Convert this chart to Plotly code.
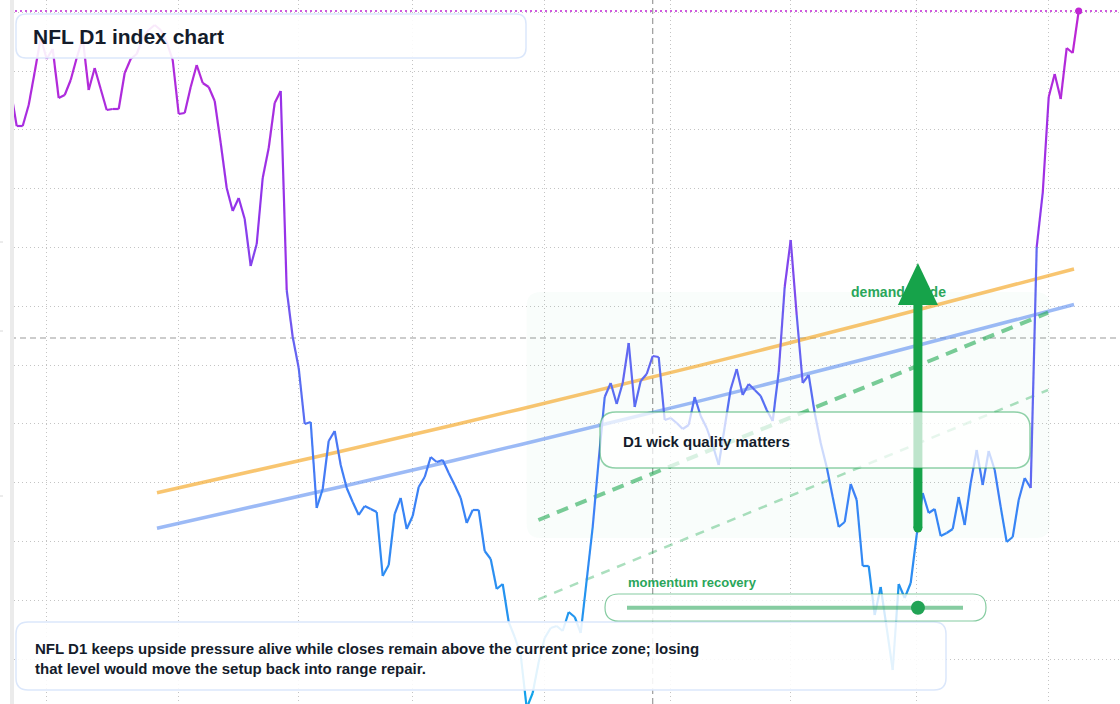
import plotly.graph_objects as go

# ---------------- data ----------------
values = [
    1614, 1578, 1578, 1599, 1632, 1666, 1645, 1655, 1606, 1609,
    1624, 1646, 1666, 1614, 1636, 1615, 1594, 1595, 1595, 1631,
    1645, 1650, 1666, 1674, 1679, 1674, 1662, 1644, 1590, 1591,
    1617, 1639, 1621, 1617, 1603, 1561, 1516, 1493, 1506, 1485,
    1438, 1460, 1526, 1556, 1601, 1613, 1414, 1367, 1336, 1280,
    1282, 1196, 1215, 1263, 1273, 1239, 1216, 1202, 1189, 1198,
    1195, 1192, 1128, 1139, 1190, 1206, 1175, 1188, 1217, 1227,
    1247, 1242, 1244, 1231, 1219, 1206, 1181, 1194, 1194, 1153,
    1145, 1115, 1120, 1082, 1067, 1049, 996, 1011, 1042, 1066,
    1076, 1078, 1073, 1092, 1087, 1071, 1124, 1177, 1244, 1307,
    1321, 1300, 1321, 1361, 1297, 1323, 1330, 1348, 1347, 1284,
    1286, 1281, 1275, 1279, 1307, 1288, 1276, 1259, 1239, 1277,
    1315, 1335, 1309, 1320, 1314, 1308, 1294, 1283, 1332, 1417,
    1464, 1389, 1321, 1329, 1291, 1261, 1237, 1207, 1177, 1182,
    1220, 1204, 1138, 1138, 1089, 1117, 1076, 1034, 1120, 1106,
    1121, 1169, 1211, 1191, 1195, 1168, 1171, 1175, 1207, 1179,
    1221, 1254, 1219, 1253, 1234, 1197, 1162, 1167, 1204, 1226,
    1216, 1457, 1511, 1607, 1630, 1605, 1656, 1651, 1693,
]
grid_x = [6, 28, 48, 67, 89, 110, 130, 151, 173]
grid_y = [1045, 1104, 1163, 1222, 1281, 1339, 1398, 1457, 1516, 1575, 1633, 1692]

trend_x = [24.38, 54.88, 84.88, 114.88, 144.88, 177.22]
trend_upper = [1211.3, 1252.5, 1294.8, 1338.6, 1384.2, 1435.0]
trend_lower = [1175.8, 1217.0, 1259.3, 1303.1, 1348.7, 1399.5]

guide_x = [87.95, 172.9]
guide_main = [1184.0, 1391.3]
guide_soft = [1104.7, 1314.0]

zone_x = [86.0, 173.2]
zone_y = [1166, 1412]

cross_x = 107
cross_y = 1366

arrow_x = 151.2
arrow_y = [1176, 1399, 1441]   # shaft bottom, head base, tip

guide_label_pos = [147.97, 1410.7]
momentum_value = 0.866

title_text = "NFL D1 index chart"
note_text = ("NFL D1 keeps upside pressure alive while closes remain above the current price zone; losing"
             "<br>that level would move the setup back into range repair.")
box_text = "D1 wick quality matters"
guide_text = "demand guide"
slider_text = "momentum recovery"

# ---------------- geometry helpers ----------------
W, H = 1120, 704
ML = 10
PW = W - ML
X0 = -0.7 / 6
X1 = X0 + PW / 6.0
Y0, Y1 = 1000, 1704


def pxx(px):
    return (px - ML) / PW


def pxy(py):
    return (H - py) / H


def rrect_path(x0, y0, x1, y1, rx, ry):
    return (f"M {x0+rx},{y0} L {x1-rx},{y0} Q {x1},{y0} {x1},{y0+ry} "
            f"L {x1},{y1-ry} Q {x1},{y1} {x1-rx},{y1} L {x0+rx},{y1} "
            f"Q {x0},{y1} {x0},{y1-ry} L {x0},{y0+ry} Q {x0},{y0} {x0+rx},{y0} Z")


def rrect_px(x0, y0, x1, y1, r):
    return rrect_path(pxx(x0), pxy(y1), pxx(x1), pxy(y0), r / PW, r / H)


def hex_to_rgb(h):
    h = h.lstrip('#')
    return tuple(int(h[i:i + 2], 16) for i in (0, 2, 4))


scale = [(0.0, '#0ea5e9'), (0.3, '#3b82f6'), (0.5, '#6366f1'),
         (0.72, '#9333ea'), (1.0, '#c026d3')]


def color_at(t):
    t = max(0.0, min(1.0, t))
    for (p0, c0), (p1, c1) in zip(scale[:-1], scale[1:]):
        if t <= p1:
            f = (t - p0) / (p1 - p0) if p1 > p0 else 0
            a, b = hex_to_rgb(c0), hex_to_rgb(c1)
            return 'rgb(%d,%d,%d)' % tuple(round(a[k] + (b[k] - a[k]) * f) for k in range(3))
    return scale[-1][1]


FONT = "Liberation Sans, Arial, sans-serif"
GREEN = '#16a34a'

fig = go.Figure()

# trend curves
fig.add_trace(go.Scatter(x=trend_x, y=trend_upper, mode='lines', line=dict(color='rgba(245,166,35,0.65)', width=3.5, shape='spline'), hoverinfo='skip'))
fig.add_trace(go.Scatter(x=trend_x, y=trend_lower, mode='lines', line=dict(color='rgba(90,140,240,0.6)', width=3.5, shape='spline'), hoverinfo='skip'))

# green guides
fig.add_trace(go.Scatter(x=guide_x, y=guide_main, mode='lines', line=dict(color='rgba(34,170,84,0.6)', width=4, dash='12px,8px'), hoverinfo='skip'))
fig.add_trace(go.Scatter(x=guide_x, y=guide_soft, mode='lines', line=dict(color='rgba(34,170,84,0.38)', width=2.5, dash='9px,8px'), hoverinfo='skip'))

# main gradient line (segment by segment)
vmin, vmax = min(values), max(values)
for i in range(len(values) - 1):
    t = ((values[i] + values[i + 1]) / 2 - vmin) / (vmax - vmin)
    fig.add_trace(go.Scatter(x=[i, i + 1], y=[values[i], values[i + 1]], mode='lines',
                             line=dict(color=color_at(t), width=2.2), hoverinfo='skip'))

last_i = len(values) - 1
fig.add_trace(go.Scatter(x=[X0, X1], y=[values[-1], values[-1]], mode='lines',
                         line=dict(color='#c026d3', width=1.3, dash='2px,3px'), hoverinfo='skip'))
fig.add_trace(go.Scatter(x=[last_i], y=[values[-1]], mode='markers',
                         marker=dict(color='#c026d3', size=7), hoverinfo='skip'))

fig.add_trace(go.Scatter(x=[guide_label_pos[0]], y=[guide_label_pos[1]], mode='text', text=[guide_text],
                         textposition='middle center',
                         textfont=dict(family=FONT, size=14, color='#2aa65a', weight='bold'), hoverinfo='skip'))

shapes = []
shapes.append(dict(type='path', xref='x', yref='y', layer='between',
                   path=rrect_path(zone_x[0], zone_y[0], zone_x[1], zone_y[1], 14 / 6, 14),
                   fillcolor='rgba(34,197,94,0.028)', line=dict(width=0)))
shapes.append(dict(type='line', xref='x', yref='paper', x0=cross_x, x1=cross_x, y0=0, y1=1, layer='between',
                   line=dict(color='#9a9a9a', width=1.2, dash='6px,4px')))
shapes.append(dict(type='line', xref='paper', yref='y', x0=0, x1=1, y0=cross_y, y1=cross_y, layer='between',
                   line=dict(color='#9a9a9a', width=1.2, dash='6px,4px')))
shapes.append(dict(type='rect', xref='paper', yref='paper', x0=0, x1=4 / PW, y0=0, y1=1, layer='above',
                   fillcolor='#ebebeb', line=dict(width=0)))
for tpy in (242, 331, 496):
    shapes.append(dict(type='line', xref='paper', yref='paper', x0=pxx(0), x1=pxx(3), y0=pxy(tpy), y1=pxy(tpy),
                       layer='above', line=dict(color='#d8d8d8', width=1)))
shapes.append(dict(type='line', xref='x', yref='y', x0=arrow_x, x1=arrow_x, y0=arrow_y[0], y1=arrow_y[1] + 2,
                   layer='above', line=dict(color=GREEN, width=9)))
shapes.append(dict(type='circle', xref='x', yref='y', x0=arrow_x - 0.75, x1=arrow_x + 0.75,
                   y0=arrow_y[0] - 4.5, y1=arrow_y[0] + 4.5, layer='above', fillcolor=GREEN, line=dict(width=0)))
hw = 20 / 6
shapes.append(dict(type='path', xref='x', yref='y', layer='above',
                   path=f"M {arrow_x-hw},{arrow_y[1]} L {arrow_x+hw},{arrow_y[1]} L {arrow_x},{arrow_y[2]} Z",
                   fillcolor=GREEN, line=dict(width=0)))
shapes.append(dict(type='path', xref='paper', yref='paper', layer='above', path=rrect_px(600, 412, 1030, 468, 16),
                   fillcolor='rgba(255,255,255,0.72)', line=dict(color='rgba(34,163,84,0.5)', width=1.5)))
shapes.append(dict(type='path', xref='paper', yref='paper', layer='above', path=rrect_px(16, 14, 526, 58, 10),
                   fillcolor='rgba(255,255,255,0.9)', line=dict(color='#dbe7fb', width=1.5)))
shapes.append(dict(type='path', xref='paper', yref='paper', layer='above', path=rrect_px(16, 622, 946, 690, 12),
                   fillcolor='rgba(255,255,255,0.88)', line=dict(color='#dbe7fb', width=1.5)))
shapes.append(dict(type='path', xref='paper', yref='paper', layer='above', path=rrect_px(605, 594, 986, 621, 13.5),
                   fillcolor='rgba(255,255,255,0.8)', line=dict(color='rgba(34,163,84,0.55)', width=1.2)))
sx0, sx1, sy = 627, 963, 607.7
shapes.append(dict(type='line', xref='paper', yref='paper', x0=pxx(sx0), x1=pxx(sx1), y0=pxy(sy), y1=pxy(sy),
                   layer='above', line=dict(color='rgba(34,163,84,0.55)', width=4)))
dot_x = sx0 + (sx1 - sx0) * momentum_value
shapes.append(dict(type='circle', xref='paper', yref='paper', x0=pxx(dot_x - 7), x1=pxx(dot_x + 7),
                   y0=pxy(sy + 7), y1=pxy(sy - 7), layer='above', fillcolor='#22a355', line=dict(width=0)))

annotations = [
    dict(xref='paper', yref='paper', x=pxx(31), y=pxy(36), xanchor='left', yanchor='middle', showarrow=False,
         text=title_text, font=dict(family=FONT, size=21, color='#141c2b', weight='bold')),
    dict(xref='paper', yref='paper', x=pxx(33), y=pxy(658), xanchor='left', yanchor='middle', showarrow=False,
         align='left', text=note_text, font=dict(family=FONT, size=15, color='#141c2b', weight='bold')),
    dict(xref='paper', yref='paper', x=pxx(621), y=pxy(441), xanchor='left', yanchor='middle', showarrow=False,
         text=box_text, font=dict(family=FONT, size=15, color='#141c2b', weight='bold')),
    dict(xref='paper', yref='paper', x=pxx(626), y=pxy(582.5), xanchor='left', yanchor='middle', showarrow=False,
         text=slider_text, font=dict(family=FONT, size=13, color='#2aa65a', weight='bold')),
]

fig.update_layout(
    width=W, height=H, margin=dict(l=ML, r=0, t=0, b=0, pad=0),
    paper_bgcolor='white', plot_bgcolor='white', showlegend=False,
    shapes=shapes, annotations=annotations,
    xaxis=dict(range=[X0, X1], tickmode='array', tickvals=grid_x, showticklabels=False, ticks='',
               showgrid=True, gridcolor='#c4c4c4', griddash='1px,3px', gridwidth=1, zeroline=False, showline=False),
    yaxis=dict(range=[Y0, Y1], tickmode='array', tickvals=grid_y, showticklabels=False, ticks='',
               showgrid=True, gridcolor='#c4c4c4', griddash='1px,3px', gridwidth=1, zeroline=False, showline=False),
    hovermode=False,
)

fig.write_html("out.html", config={'displayModeBar': False},
               post_script="document.body.style.margin='0';document.body.style.overflow='hidden';")
